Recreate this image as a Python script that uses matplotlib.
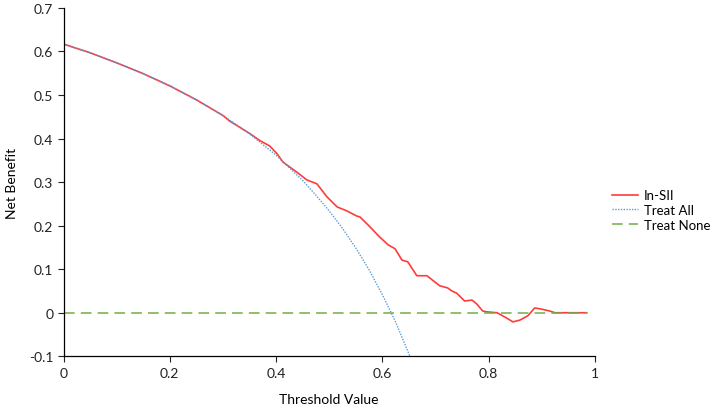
import matplotlib
matplotlib.use("Agg")
import matplotlib.pyplot as plt
from matplotlib.ticker import FuncFormatter

# ────────────────────────────────
# Data
# ────────────────────────────────
model_t = [0.0, 0.05, 0.10, 0.15, 0.20, 0.25, 0.30, 0.313, 0.350, 0.370, 0.388,
           0.402, 0.413, 0.439, 0.458, 0.477, 0.496, 0.515, 0.533, 0.552, 0.558,
           0.577, 0.595, 0.611, 0.624, 0.637, 0.648, 0.665, 0.684, 0.708, 0.723,
           0.731, 0.740, 0.755, 0.769, 0.778, 0.789, 0.797, 0.816, 0.831, 0.846,
           0.859, 0.874, 0.887, 0.897, 0.915, 0.925, 0.985]
model_nb = [0.617, 0.597, 0.574, 0.549, 0.521, 0.489, 0.453, 0.440, 0.412, 0.395, 0.383,
            0.365, 0.346, 0.323, 0.305, 0.296, 0.266, 0.243, 0.234, 0.222, 0.220,
            0.197, 0.174, 0.156, 0.147, 0.121, 0.117, 0.085, 0.085, 0.062, 0.057,
            0.050, 0.045, 0.027, 0.029, 0.020, 0.004, 0.002, 0.000, -0.010, -0.021,
            -0.017, -0.007, 0.011, 0.009, 0.004, 0.000, 0.000]

all_t = [0.0, 0.05, 0.10, 0.15, 0.20, 0.25, 0.30, 0.35, 0.40, 0.45, 0.475, 0.50,
         0.525, 0.55, 0.575, 0.60, 0.625, 0.65, 0.652]
all_nb = [0.617, 0.597, 0.574, 0.549, 0.521, 0.489, 0.453, 0.411, 0.362, 0.304, 0.270,
          0.234, 0.194, 0.149, 0.099, 0.042, -0.021, -0.094, -0.100]

none_t = [0.0, 0.985]
none_nb = [0.0, 0.0]

x_ticks = [0, 0.2, 0.4, 0.6, 0.8, 1]
y_ticks = [-0.1, 0, 0.1, 0.2, 0.3, 0.4, 0.5, 0.6, 0.7]

# ────────────────────────────────
# Plot
# ────────────────────────────────
plt.rcParams["font.family"] = ["Lato", "DejaVu Sans"]
plt.rcParams["axes.unicode_minus"] = False

fig = plt.figure(figsize=(7.14, 4.06), dpi=100)
ax = fig.add_axes([0.089, 0.12, 0.744, 0.858])

ax.plot(model_t, model_nb, color="#FF3B3B", lw=1.2, label="In-SII")
ax.plot(all_t, all_nb, color="#5B9BD5", lw=1.0, ls=(0, (1.0, 1.0)), label="Treat All")
ax.plot(none_t, none_nb, color="#70AD47", lw=1.1, ls=(0, (7, 4)), label="Treat None")

ax.set_xlim(0, 1)
ax.set_ylim(-0.1, 0.7)
ax.set_xticks(x_ticks)
ax.set_yticks(y_ticks)
fmt = FuncFormatter(lambda v, p: "%g" % round(v, 2))
ax.xaxis.set_major_formatter(fmt)
ax.yaxis.set_major_formatter(fmt)
ax.tick_params(direction="out", length=4, width=0.8, labelsize=10, colors="#222222")
for side in ("top", "right"):
    ax.spines[side].set_visible(False)
for side in ("left", "bottom"):
    ax.spines[side].set_linewidth(0.9)

ax.set_xlabel("Threshold Value", fontsize=10, labelpad=10)
ax.set_ylabel("Net Benefit", fontsize=10, labelpad=8)

ax.legend(loc="center left", bbox_to_anchor=(1.032, 0.42), frameon=False,
          fontsize=9.5, handlelength=2.0, handletextpad=0.45, labelspacing=0.2,
          borderaxespad=0, borderpad=0)

fig.savefig("out.png", dpi=100)
